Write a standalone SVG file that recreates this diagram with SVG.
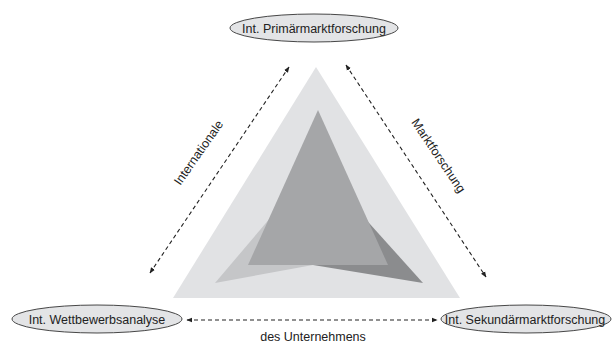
<svg xmlns="http://www.w3.org/2000/svg" width="612" height="345" viewBox="0 0 612 345">
<style>
.lbl{font-family:"Liberation Sans",Arial,sans-serif;font-size:12.5px;fill:#222;text-anchor:middle}
.ell{fill:#e3e4e6;stroke:#333;stroke-width:0.9}
.con{stroke:#222;stroke-width:1.1;stroke-dasharray:4 3;fill:none}
</style>
<defs>
<marker id="ah" viewBox="0 0 10 10" refX="9" refY="5" markerWidth="6" markerHeight="6" orient="auto-start-reverse" markerUnits="userSpaceOnUse">
<path d="M0,1 L10,5 L0,9 Z" fill="#222"/>
</marker>
</defs>
<g id="shapes">
<polygon points="316,67 173,298 460,298" fill="#e1e2e4"/>
<polygon points="316,164 215,283 313,265" fill="#c5c6c8"/>
<polygon points="316,164 313,265 423,283" fill="#8b8c8e"/>
<polygon points="318,110 248,265 388,265" fill="#a5a6a8"/>
</g>
<g id="connectors">
<line class="con" x1="150" y1="273" x2="289" y2="67" marker-start="url(#ah)" marker-end="url(#ah)"/>
<line class="con" x1="346" y1="65" x2="486" y2="277" marker-start="url(#ah)" marker-end="url(#ah)"/>
<line class="con" x1="187" y1="320" x2="437" y2="320" marker-start="url(#ah)" marker-end="url(#ah)"/>
<text class="lbl" transform="translate(202,155) rotate(-55)">Internationale</text>
<text class="lbl" transform="translate(435,158) rotate(56)">Marktforschung</text>
<text class="lbl" x="313" y="341">des Unternehmens</text>
</g>
<g id="node-primaer">
<ellipse class="ell" cx="314" cy="28" rx="84" ry="14"/>
<text class="lbl" x="314" y="32.5">Int. Primärmarktforschung</text>
</g>
<g id="node-wettbewerb">
<ellipse class="ell" cx="97" cy="319" rx="85" ry="14"/>
<text class="lbl" x="97" y="323.5">Int. Wettbewerbsanalyse</text>
</g>
<g id="node-sekundaer">
<ellipse class="ell" cx="526" cy="319" rx="85" ry="14"/>
<text class="lbl" x="525" y="323.5">Int. Sekundärmarktforschung</text>
</g>
</svg>
